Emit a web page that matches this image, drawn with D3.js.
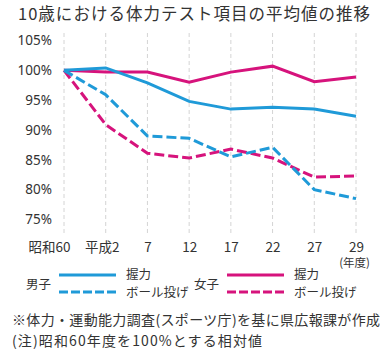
<!DOCTYPE html>
<html>
<head>
<meta charset="utf-8">
<script src="https://cdn.jsdelivr.net/npm/d3@7"></script>
<style>
  body { margin: 0; background: #fff; }
  text { font-family: "Noto Sans CJK JP", "Noto Sans", sans-serif; fill: #333; }
</style>
</head>
<body>
<div id="chart"></div>
<script>
// x categories (年度)
const years = ["昭和60", "平成2", "7", "12", "17", "22", "27", "29"];
const yTicks = [75, 80, 85, 90, 95, 100, 105];

// 昭和60年度 = 100 とする相対値
const boysGrip  = [100, 100.4, 97.9, 94.8, 93.5, 93.8, 93.5, 92.3];
const boysBall  = [100, 95.9, 89.0, 88.6, 85.5, 87.1, 80.0, 78.5];
const girlsGrip = [100, 99.7, 99.7, 98.0, 99.7, 100.7, 98.1, 98.9];
const girlsBall = [100, 90.9, 86.1, 85.3, 86.8, 85.3, 82.1, 82.3];

const blue = "#1f9ad8", pink = "#d6137c";

const W = 390, H = 353;
const svg = d3.select("#chart").append("svg").attr("width", W).attr("height", H);

// title
svg.append("text").attr("x", 18).attr("y", 20)
    .attr("font-size", 16.5)
    .attr("textLength", 352).attr("lengthAdjust", "spacing")
    .text("10歳における体力テスト項目の平均値の推移");

const x = d3.scalePoint().domain(years).range([64, 356]);
const y = d3.scaleLinear().domain([75, 105]).range([219.5, 40.5]);

// vertical dashed gridlines
svg.append("g").selectAll("line").data(years).join("line")
    .attr("x1", d => x(d)).attr("x2", d => x(d))
    .attr("y1", 33).attr("y2", 233)
    .attr("stroke", "#d4d4d4").attr("stroke-width", 1)
    .attr("stroke-dasharray", "4,3");

// y axis labels
const yAxis = d3.axisLeft(y).tickValues(yTicks).tickFormat(d => d + "%").tickSize(0).tickPadding(0);
svg.append("g").attr("transform", "translate(52,0)").call(yAxis)
    .call(g => g.select(".domain").remove())
    .selectAll("text").attr("font-size", 13.5).attr("fill", "#333")
    .style("font-family", "'Noto Sans', sans-serif");

// x axis labels (first two sit a little left of their gridline, as in the original)
const xShift = { "昭和60": -15, "平成2": -4 };
const xAxis = d3.axisBottom(x).tickSize(0).tickPadding(0);
svg.append("g").attr("transform", "translate(0,242)").call(xAxis)
    .call(g => g.select(".domain").remove())
    .selectAll("text").attr("font-size", 13.5).attr("fill", "#333")
    .attr("dx", d => xShift[d] || 0);

svg.append("text").attr("x", 370).attr("y", 267).attr("text-anchor", "end")
    .attr("font-size", 11.5).text("(年度)");

const line = d3.line().x((d, i) => x(years[i])).y(d => y(d));

const series = [
  { v: girlsGrip, c: pink, dash: null },
  { v: boysGrip, c: blue, dash: null },
  { v: girlsBall, c: pink, dash: "10,4" },
  { v: boysBall, c: blue, dash: "10,4" }
];
svg.append("g").selectAll("path").data(series).join("path")
    .attr("d", d => line(d.v))
    .attr("fill", "none")
    .attr("stroke", d => d.c)
    .attr("stroke-width", 3)
    .attr("stroke-dasharray", d => d.dash);

// legend
const legend = [
  { label: "男子", c: blue, x0: 59, lx: 26 },
  { label: "女子", c: pink, x0: 227, lx: 194 }
];
legend.forEach(l => {
  const g = svg.append("g");
  g.append("text").attr("x", l.lx).attr("y", 289).attr("font-size", 12.5).text(l.label);
  g.append("line").attr("x1", l.x0).attr("x2", l.x0 + 57).attr("y1", 275).attr("y2", 275)
      .attr("stroke", l.c).attr("stroke-width", 3);
  g.append("line").attr("x1", l.x0).attr("x2", l.x0 + 57).attr("y1", 292).attr("y2", 292)
      .attr("stroke", l.c).attr("stroke-width", 3).attr("stroke-dasharray", "9,3");
  g.append("text").attr("x", l.x0 + 67).attr("y", 279).attr("font-size", 12.5).text("握力");
  g.append("text").attr("x", l.x0 + 67).attr("y", 297).attr("font-size", 12.5).text("ボール投げ");
});

// notes
svg.append("text").attr("x", 12).attr("y", 325).attr("font-size", 14)
    .attr("textLength", 368).attr("lengthAdjust", "spacing")
    .text("※体力・運動能力調査(スポーツ庁)を基に県広報課が作成");
svg.append("text").attr("x", 12).attr("y", 346).attr("font-size", 14)
    .attr("textLength", 250).attr("lengthAdjust", "spacing")
    .text("(注)昭和60年度を100%とする相対値");
</script>
</body>
</html>
